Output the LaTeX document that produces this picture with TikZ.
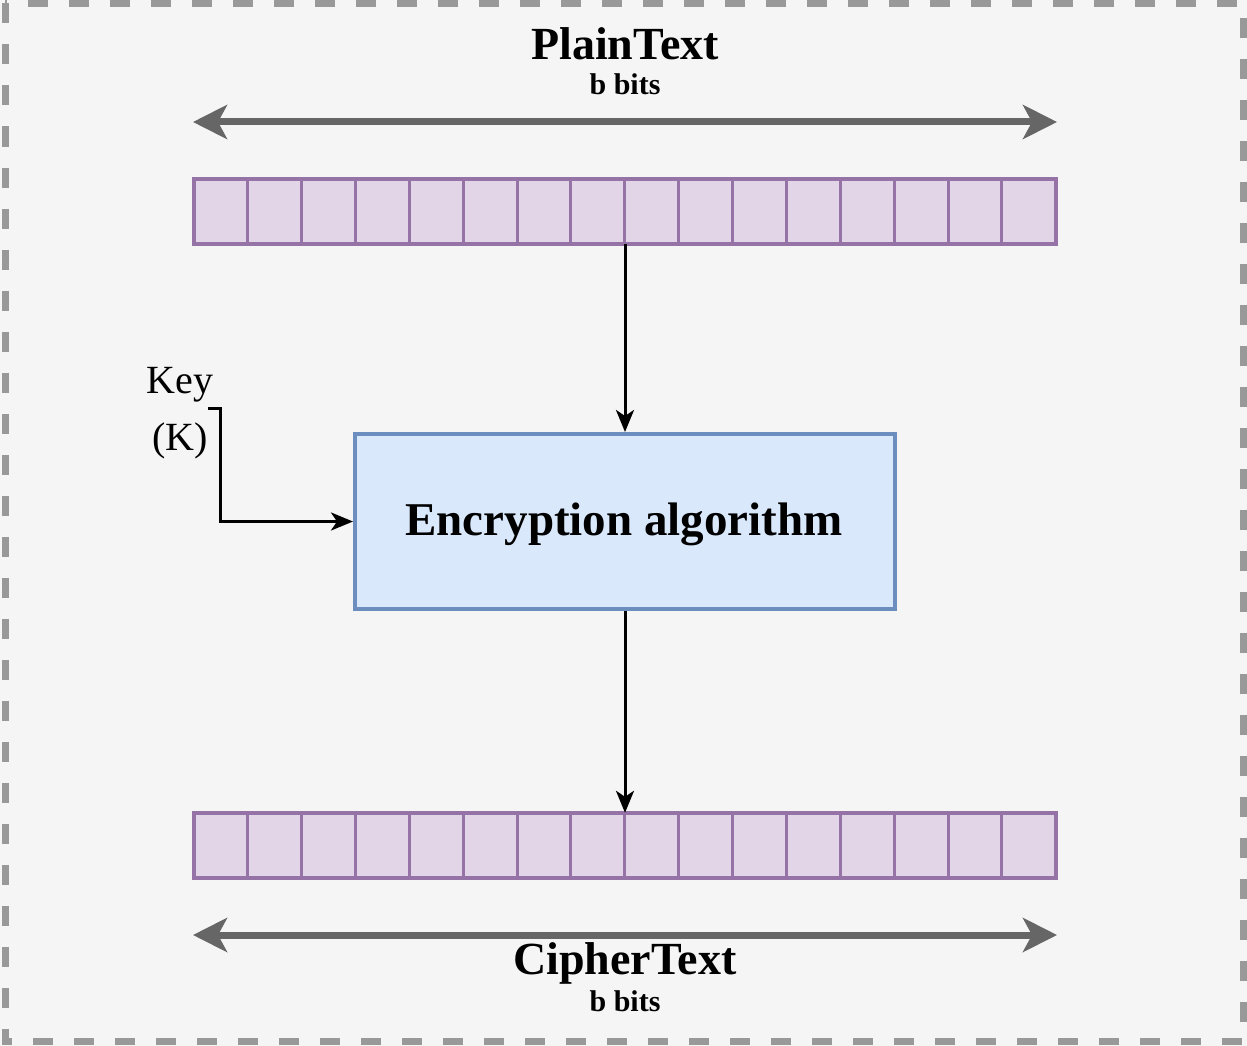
\documentclass[tikz,border=0pt]{standalone}
\usepackage{fontspec}
\setmainfont{Liberation Serif}
\usetikzlibrary{arrows.meta,calc}
\definecolor{bgc}{HTML}{F5F5F5}
\definecolor{frame}{HTML}{999999}
\definecolor{cellfill}{HTML}{E1D5E7}
\definecolor{cellline}{HTML}{9673A6}
\definecolor{boxfill}{HTML}{DAE8FC}
\definecolor{boxline}{HTML}{6C8EBF}
\definecolor{darr}{HTML}{666666}
\tikzset{
  bitrow/.style={fill=cellfill, minimum width=862pt, minimum height=65pt, inner sep=0pt},
  algbox/.style={draw=boxline, line width=4pt, fill=boxfill, minimum width=540pt, minimum height=175pt, inner sep=0pt},
  flow/.style={line width=3pt, -{Stealth[length=22pt,width=18pt,inset=6pt]}},
  span/.style={draw=darr, line width=7pt, {Stealth[length=34pt,width=34pt,inset=9pt]}-{Stealth[length=34pt,width=34pt,inset=9pt]}},
  title/.style={font=\fontsize{46}{50}\selectfont\bfseries, inner sep=0pt},
  sub/.style={font=\fontsize{30}{32}\selectfont\bfseries, inner sep=0pt},
  keytxt/.style={font=\fontsize{40}{44}\selectfont, inner sep=0pt},
  algtxt/.style={font=\fontsize{47}{52}\selectfont\bfseries, inner sep=0pt}
}
\begin{document}
\begin{tikzpicture}[x=1pt,y=-1pt]
\useasboundingbox (0,0) rectangle (1247,1046);
\fill[bgc] (0,0) rectangle (1247,1046);
\draw[frame, line width=7pt, dash pattern=on 20pt off 21pt] (5,3.5) rectangle (1243.5,1041.5);

% bit rows
\node[bitrow] (ptrow) at (625,211.5) {};
\node[bitrow] (ctrow) at (625,845.5) {};
\foreach \i in {1,...,15}{
  \draw[cellline, line width=3pt] ($(ptrow.north west)+(\i*53.875,0)$) -- ($(ptrow.south west)+(\i*53.875,0)$);
  \draw[cellline, line width=3pt] ($(ctrow.north west)+(\i*53.875,0)$) -- ($(ctrow.south west)+(\i*53.875,0)$);
}
\draw[cellline, line width=4.5pt] (ptrow.north west) rectangle (ptrow.south east);
\draw[cellline, line width=4.5pt] (ctrow.north west) rectangle (ctrow.south east);

% algorithm box
\node[algbox] (alg) at (625,521.5) {};
\node[algtxt] (algt) at (624,524) {Encryption algorithm};

% titles
\node[title] (pt) at (625,44) {PlainText};
\node[sub] (ptb) at (625,84) {b bits};
\node[title] (ct) at (625,963) {CipherText};
\node[sub] (ctb) at (625,1001) {b bits};

% span arrows
\coordinate (pl) at (193,122);
\coordinate (pr) at (1057,122);
\coordinate (cl) at (193,935);
\coordinate (cr) at (1057,935);
\draw[span] (pl) -- (pr);
\draw[span] (cl) -- (cr);

% flow arrows
\draw[flow] (ptrow.south) -- (alg.north);
\draw[flow] (alg.south) -- (ctrow.north);

% key
\node[keytxt] (key) at (180,385) {Key};
\node[keytxt] (kk) at (180,441) {(K)};
\coordinate (kstart) at (208,408);
\draw[flow] (kstart) -- (220,408) -- (220,521.5) -- (alg.west);
\end{tikzpicture}
\end{document}
